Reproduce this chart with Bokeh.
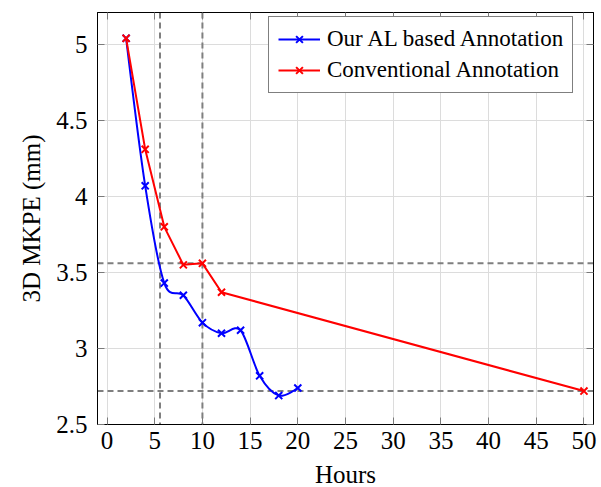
from bokeh.plotting import figure
from bokeh.models import Range1d, Span, LinearAxis, FixedTicker, Legend
from bokeh.embed import file_html
from bokeh.resources import INLINE

# Data
al_hours = [2, 4, 6, 8, 10, 12, 14, 16, 18, 20]
al_mkpe = [5.04, 4.07, 3.43, 3.35, 3.17, 3.10, 3.12, 2.82, 2.69, 2.74]
conv_hours = [2, 4, 6, 8, 10, 12, 50]
conv_mkpe = [5.04, 4.31, 3.80, 3.55, 3.56, 3.37, 2.72]
vlines = [5.55, 10]
hlines = [3.56, 2.72]
x_ticks = [0, 5, 10, 15, 20, 25, 30, 35, 40, 45, 50]
y_ticks = [2.5, 3, 3.5, 4, 4.5, 5]

FONT = "Liberation Serif"

p = figure(width=597, height=483, output_backend="svg", toolbar_location=None,
           x_range=Range1d(-1, 51), y_range=Range1d(2.5, 5.21),
           min_border_left=97, min_border_right=4, min_border_top=12, min_border_bottom=40)
p.frame_width = 496
p.frame_height = 412

p.outline_line_color = "black"
p.outline_line_width = 1
p.background_fill_color = "white"
p.border_fill_color = "white"

for ax, ticks in ((p.xaxis[0], x_ticks), (p.yaxis[0], y_ticks)):
    ax.ticker = FixedTicker(ticks=ticks)
    ax.major_tick_in = 7
    ax.major_tick_out = 0
    ax.minor_tick_line_color = None
    ax.major_tick_line_color = "#7a7a7a"
    ax.axis_line_color = "black"
    ax.major_label_text_font = FONT
    ax.major_label_text_font_size = "25px"
    ax.major_label_text_color = "black"
    ax.axis_label_text_font = FONT
    ax.axis_label_text_font_size = "25px"
    ax.axis_label_text_font_style = "normal"
    ax.axis_label_text_color = "black"
p.xaxis[0].axis_label = "Hours"
p.yaxis[0].axis_label = "3D MKPE (mm)"
p.xaxis[0].major_label_standoff = 7
p.yaxis[0].major_label_standoff = 10
p.yaxis[0].axis_label_standoff = 8
p.xaxis[0].axis_label_standoff = 9

# mirrored ticks on top and right (no labels)
top = LinearAxis(ticker=FixedTicker(ticks=x_ticks), major_tick_in=7, major_tick_out=0,
                 minor_tick_line_color=None, major_tick_line_color="#7a7a7a",
                 major_label_text_color=None, major_label_text_font_size="1px",
                 major_label_standoff=0, axis_line_color="black")
right = LinearAxis(ticker=FixedTicker(ticks=y_ticks), major_tick_in=7, major_tick_out=0,
                   minor_tick_line_color=None, major_tick_line_color="#7a7a7a",
                   major_label_text_color=None, major_label_text_font_size="1px",
                   major_label_standoff=0, axis_line_color="black")
p.add_layout(top, "above")
p.add_layout(right, "right")

p.xgrid.ticker = FixedTicker(ticks=x_ticks)
p.ygrid.ticker = FixedTicker(ticks=y_ticks)
p.grid.grid_line_color = "#dcdcdc"
p.grid.grid_line_width = 1

for v in vlines:
    p.add_layout(Span(location=v, dimension="height", line_color="#7f7f7f",
                      line_width=2, line_dash="6 4", level="underlay"))
for h in hlines:
    p.add_layout(Span(location=h, dimension="width", line_color="#7f7f7f",
                      line_width=2, line_dash="6 4", level="underlay"))

# smooth blue curve (pgf-like smooth, tension 0.55)
t = 0.55 * 0.2775
n = len(al_hours)
x0, y0, x1, y1, cx0, cy0, cx1, cy1 = [], [], [], [], [], [], [], []
for i in range(n - 1):
    xa, ya = al_hours[i], al_mkpe[i]
    xb, yb = al_hours[i + 1], al_mkpe[i + 1]
    if i == 0:
        c0x, c0y = xa, ya
    else:
        c0x = xa + t * (xb - al_hours[i - 1])
        c0y = ya + t * (yb - al_mkpe[i - 1])
    if i + 2 >= n:
        c1x, c1y = xb, yb
    else:
        c1x = xb - t * (al_hours[i + 2] - xa)
        c1y = yb - t * (al_mkpe[i + 2] - ya)
    x0.append(xa); y0.append(ya); x1.append(xb); y1.append(yb)
    cx0.append(c0x); cy0.append(c0y); cx1.append(c1x); cy1.append(c1y)

p.bezier(x0=x0, y0=y0, x1=x1, y1=y1, cx0=cx0, cy0=cy0, cx1=cx1, cy1=cy1,
         line_color="#0000ff", line_width=2)
# single-point line: draws nothing in the plot, only provides the legend swatch
r_al_line = p.line(al_hours[:1], al_mkpe[:1], line_color="#0000ff", line_width=2)
r_al_pts = p.scatter(al_hours, al_mkpe, marker="x", size=10, line_color="#0000ff", line_width=2)

r_cv_line = p.line(conv_hours, conv_mkpe, line_color="#ff0000", line_width=2)
r_cv_pts = p.scatter(conv_hours, conv_mkpe, marker="x", size=10, line_color="#ff0000", line_width=2)

legend = Legend(items=[("Our AL based Annotation", [r_al_line, r_al_pts]),
                       ("Conventional Annotation", [r_cv_line, r_cv_pts])],
                location=(171, 331))
legend.label_text_font = FONT
legend.label_text_font_size = "23px"
legend.label_text_color = "black"
legend.border_line_color = "black"
legend.border_line_width = 1
legend.background_fill_alpha = 1
legend.glyph_width = 42
legend.glyph_height = 24
legend.label_height = 24
legend.label_standoff = 7
legend.padding = 9
legend.spacing = 5
legend.margin = 0
p.add_layout(legend)

open("out.html", "w").write(file_html(p, INLINE))
